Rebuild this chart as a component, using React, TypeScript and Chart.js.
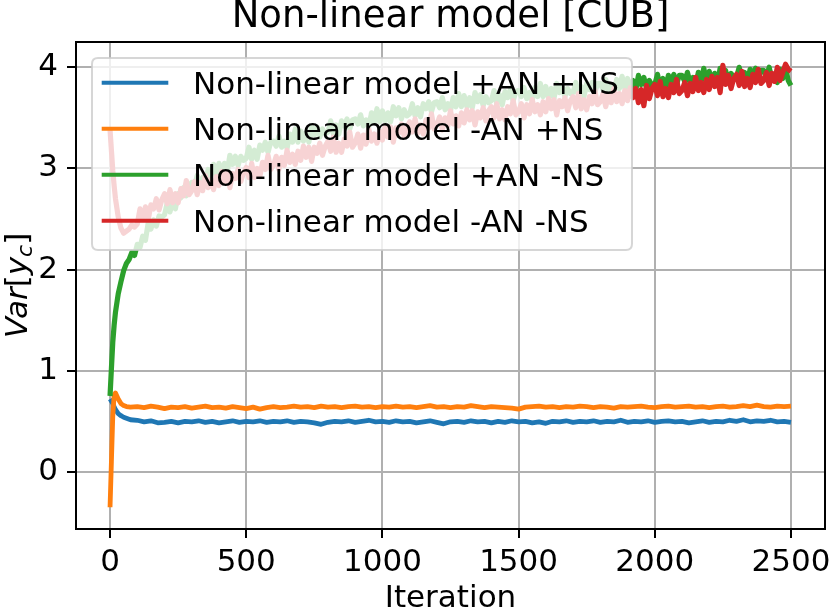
import React, { useEffect, useRef } from "react";
import { Chart, registerables } from "chart.js";

Chart.register(...registerables);

const TITLE = "Non-linear model [CUB]";
const X_LABEL = "Iteration";
const X_TICKS = [0, 500, 1000, 1500, 2000, 2500];
const Y_TICKS = [0, 1, 2, 3, 4];

// iterations sampled for the two low, flat series
const ITERATIONS = [
  0, 5, 10, 15, 20, 30, 40, 50, 60, 75,
  100, 125, 150, 175, 200, 225, 250, 275, 300, 325,
  350, 375, 400, 425, 450, 475, 500, 525, 550, 575,
  600, 625, 650, 675, 700, 725, 750, 775, 800, 825,
  850, 875, 900, 925, 950, 975, 1000, 1025, 1050, 1075,
  1100, 1125, 1150, 1175, 1200, 1225, 1250, 1275, 1300, 1325,
  1350, 1375, 1400, 1425, 1450, 1475, 1500, 1525, 1550, 1575,
  1600, 1625, 1650, 1675, 1700, 1725, 1750, 1775, 1800, 1825,
  1850, 1875, 1900, 1925, 1950, 1975, 2000, 2025, 2050, 2075,
  2100, 2125, 2150, 2175, 2200, 2225, 2250, 2275, 2300, 2325,
  2350, 2375, 2400, 2425, 2450, 2475, 2500,
];

// iterations sampled for the two noisy, rising series
const ITERATIONS_FINE = [
  0, 5, 10, 15, 20, 30, 40, 50, 60, 70, 80, 90,
  100, 110, 120, 130, 140, 150, 160, 170, 180, 190,
  200, 210, 220, 230, 240, 250, 260, 270, 280, 290,
  300, 310, 320, 330, 340, 350, 360, 370, 380, 390,
  400, 410, 420, 430, 440, 450, 460, 470, 480, 490,
  500, 510, 520, 530, 540, 550, 560, 570, 580, 590,
  600, 610, 620, 630, 640, 650, 660, 670, 680, 690,
  700, 710, 720, 730, 740, 750, 760, 770, 780, 790,
  800, 810, 820, 830, 840, 850, 860, 870, 880, 890,
  900, 910, 920, 930, 940, 950, 960, 970, 980, 990,
  1000, 1010, 1020, 1030, 1040, 1050, 1060, 1070, 1080, 1090,
  1100, 1110, 1120, 1130, 1140, 1150, 1160, 1170, 1180, 1190,
  1200, 1210, 1220, 1230, 1240, 1250, 1260, 1270, 1280, 1290,
  1300, 1310, 1320, 1330, 1340, 1350, 1360, 1370, 1380, 1390,
  1400, 1410, 1420, 1430, 1440, 1450, 1460, 1470, 1480, 1490,
  1500, 1510, 1520, 1530, 1540, 1550, 1560, 1570, 1580, 1590,
  1600, 1610, 1620, 1630, 1640, 1650, 1660, 1670, 1680, 1690,
  1700, 1710, 1720, 1730, 1740, 1750, 1760, 1770, 1780, 1790,
  1800, 1810, 1820, 1830, 1840, 1850, 1860, 1870, 1880, 1890,
  1900, 1910, 1920, 1930, 1940, 1950, 1960, 1970, 1980, 1990,
  2000, 2010, 2020, 2030, 2040, 2050, 2060, 2070, 2080, 2090,
  2100, 2110, 2120, 2130, 2140, 2150, 2160, 2170, 2180, 2190,
  2200, 2210, 2220, 2230, 2240, 2250, 2260, 2270, 2280, 2290,
  2300, 2310, 2320, 2330, 2340, 2350, 2360, 2370, 2380, 2390,
  2400, 2410, 2420, 2430, 2440, 2450, 2460, 2470, 2480, 2490,
  2500,
];

const SERIES_NAMES = [
  "Non-linear model +AN +NS",
  "Non-linear model -AN +NS",
  "Non-linear model +AN -NS",
  "Non-linear model -AN -NS",
];

const SERIES_COLORS = ["#1f77b4", "#ff7f0e", "#2ca02c", "#d62728"];

const PLUS_AN_PLUS_NS = [
  0.72, 0.70, 0.68, 0.645, 0.615, 0.575, 0.555, 0.54, 0.53, 0.515,
  0.51, 0.495, 0.505, 0.485, 0.49, 0.50, 0.485, 0.50, 0.495, 0.505,
  0.49, 0.50, 0.485, 0.495, 0.505, 0.49, 0.50, 0.495, 0.505, 0.49,
  0.50, 0.495, 0.505, 0.49, 0.50, 0.495, 0.485, 0.47, 0.49, 0.50,
  0.495, 0.505, 0.49, 0.50, 0.51, 0.495, 0.50, 0.49, 0.505, 0.495,
  0.50, 0.485, 0.495, 0.505, 0.49, 0.475, 0.495, 0.50, 0.49, 0.505,
  0.495, 0.50, 0.485, 0.50, 0.49, 0.505, 0.495, 0.50, 0.485, 0.495,
  0.48, 0.50, 0.495, 0.505, 0.49, 0.50, 0.495, 0.505, 0.49, 0.50,
  0.495, 0.51, 0.49, 0.50, 0.495, 0.505, 0.49, 0.50, 0.505, 0.495,
  0.50, 0.485, 0.495, 0.505, 0.49, 0.50, 0.495, 0.51, 0.50, 0.515,
  0.495, 0.505, 0.50, 0.51, 0.495, 0.50, 0.49,
];

const MINUS_AN_PLUS_NS = [
  -0.35, 0.10, 0.55, 0.76, 0.78, 0.72, 0.675, 0.655, 0.645, 0.64,
  0.645, 0.635, 0.65, 0.64, 0.625, 0.64, 0.635, 0.645, 0.63, 0.64,
  0.65, 0.635, 0.64, 0.63, 0.645, 0.635, 0.625, 0.64, 0.62, 0.635,
  0.645, 0.635, 0.64, 0.65, 0.64, 0.645, 0.635, 0.65, 0.64, 0.645,
  0.635, 0.645, 0.65, 0.64, 0.645, 0.635, 0.645, 0.64, 0.65, 0.64,
  0.645, 0.635, 0.645, 0.655, 0.64, 0.645, 0.635, 0.645, 0.64, 0.655,
  0.645, 0.635, 0.645, 0.64, 0.635, 0.63, 0.62, 0.64, 0.645, 0.65,
  0.64, 0.645, 0.635, 0.645, 0.64, 0.65, 0.645, 0.635, 0.645, 0.64,
  0.63, 0.645, 0.64, 0.645, 0.65, 0.64, 0.635, 0.645, 0.65, 0.64,
  0.645, 0.65, 0.64, 0.645, 0.635, 0.645, 0.65, 0.64, 0.645, 0.655,
  0.645, 0.66, 0.645, 0.64, 0.65, 0.645, 0.65,
];

const PLUS_AN_MINUS_NS = [
  0.75, 1.02, 1.28, 1.45, 1.58, 1.76, 1.88, 1.99, 2.06, 2.10, 2.17, 2.14,
  2.25, 2.22, 2.33, 2.29, 2.46, 2.40, 2.49, 2.43, 2.53, 2.52,
  2.54, 2.66, 2.57, 2.67, 2.60, 2.75, 2.71, 2.81, 2.73, 2.83,
  2.86, 2.82, 2.93, 2.83, 2.91, 2.84, 2.99, 2.92, 3.04, 2.94,
  3.05, 2.95, 3.05, 2.96, 3.13, 3.04, 3.12, 3.03, 3.12, 3.08,
  3.10, 3.21, 3.09, 3.18, 3.09, 3.23, 3.18, 3.26, 3.16, 3.26,
  3.27, 3.22, 3.32, 3.21, 3.27, 3.20, 3.34, 3.26, 3.39, 3.26,
  3.37, 3.27, 3.36, 3.26, 3.42, 3.33, 3.41, 3.31, 3.39, 3.34,
  3.36, 3.47, 3.34, 3.43, 3.34, 3.47, 3.42, 3.49, 3.39, 3.48,
  3.49, 3.44, 3.53, 3.42, 3.48, 3.41, 3.55, 3.46, 3.59, 3.46,
  3.57, 3.47, 3.55, 3.46, 3.61, 3.52, 3.60, 3.49, 3.58, 3.52,
  3.54, 3.64, 3.52, 3.60, 3.51, 3.64, 3.59, 3.66, 3.56, 3.65,
  3.66, 3.60, 3.70, 3.58, 3.64, 3.57, 3.70, 3.61, 3.74, 3.61,
  3.72, 3.61, 3.70, 3.60, 3.75, 3.66, 3.73, 3.62, 3.71, 3.65,
  3.67, 3.77, 3.64, 3.73, 3.63, 3.76, 3.70, 3.78, 3.67, 3.76,
  3.77, 3.71, 3.80, 3.69, 3.75, 3.67, 3.80, 3.71, 3.84, 3.71,
  3.81, 3.70, 3.79, 3.69, 3.84, 3.75, 3.82, 3.71, 3.79, 3.74,
  3.75, 3.85, 3.72, 3.81, 3.71, 3.84, 3.78, 3.85, 3.75, 3.84,
  3.84, 3.78, 3.88, 3.76, 3.82, 3.75, 3.88, 3.79, 3.91, 3.79,
  3.89, 3.78, 3.87, 3.77, 3.92, 3.83, 3.90, 3.79, 3.87, 3.82,
  3.83, 3.93, 3.80, 3.89, 3.79, 3.92, 3.86, 3.93, 3.83, 3.92,
  3.92, 3.86, 3.95, 3.84, 3.90, 3.82, 3.95, 3.86, 3.99, 3.86,
  3.96, 3.85, 3.94, 3.84, 3.99, 3.90, 3.97, 3.86, 3.94, 3.89,
  3.90, 4.00, 3.87, 3.95, 3.85, 3.98, 3.92, 3.99, 3.88, 3.97,
  3.97, 3.91, 4.00, 3.88, 3.93, 3.85, 3.98, 3.89, 4.00, 3.87,
  3.82,
];

const MINUS_AN_MINUS_NS = [
  3.38, 3.18, 2.98, 2.83, 2.70, 2.52, 2.41, 2.36, 2.38, 2.40, 2.44, 2.42,
  2.45, 2.60, 2.51, 2.62, 2.49, 2.64, 2.60, 2.70, 2.59, 2.69,
  2.75, 2.65, 2.79, 2.66, 2.75, 2.66, 2.80, 2.73, 2.88, 2.74,
  2.78, 2.87, 2.74, 2.86, 2.78, 2.93, 2.81, 2.89, 2.79, 2.92,
  2.83, 2.97, 2.86, 2.96, 2.81, 2.95, 2.90, 2.99, 2.87, 2.96,
  3.01, 2.91, 3.05, 2.91, 3.00, 2.92, 3.06, 2.99, 3.13, 2.99,
  3.03, 3.12, 2.99, 3.11, 3.03, 3.18, 3.06, 3.14, 3.04, 3.17,
  3.08, 3.22, 3.11, 3.21, 3.07, 3.21, 3.15, 3.25, 3.13, 3.22,
  3.27, 3.17, 3.31, 3.16, 3.25, 3.16, 3.29, 3.22, 3.36, 3.21,
  3.25, 3.34, 3.20, 3.33, 3.24, 3.39, 3.27, 3.34, 3.25, 3.37,
  3.28, 3.42, 3.31, 3.41, 3.26, 3.40, 3.35, 3.44, 3.32, 3.41,
  3.46, 3.36, 3.49, 3.35, 3.43, 3.34, 3.48, 3.40, 3.54, 3.39,
  3.43, 3.51, 3.38, 3.50, 3.42, 3.57, 3.44, 3.52, 3.42, 3.55,
  3.45, 3.58, 3.48, 3.57, 3.43, 3.56, 3.50, 3.60, 3.47, 3.57,
  3.61, 3.50, 3.64, 3.49, 3.58, 3.48, 3.61, 3.54, 3.67, 3.53,
  3.56, 3.64, 3.50, 3.63, 3.54, 3.68, 3.56, 3.63, 3.53, 3.66,
  3.56, 3.69, 3.59, 3.68, 3.53, 3.67, 3.61, 3.70, 3.57, 3.67,
  3.71, 3.60, 3.74, 3.59, 3.68, 3.58, 3.71, 3.64, 3.77, 3.63,
  3.66, 3.74, 3.61, 3.73, 3.65, 3.79, 3.66, 3.74, 3.64, 3.77,
  3.67, 3.80, 3.70, 3.79, 3.65, 3.78, 3.62, 3.82, 3.69, 3.79,
  3.83, 3.72, 3.86, 3.71, 3.79, 3.70, 3.83, 3.75, 3.88, 3.74,
  3.77, 3.85, 3.72, 3.84, 3.76, 3.90, 3.77, 3.85, 3.75, 3.88,
  3.78, 3.91, 3.81, 3.90, 3.75, 4.02, 3.83, 3.92, 3.79, 3.89,
  3.93, 3.82, 3.96, 3.81, 3.89, 3.80, 3.93, 3.85, 3.98, 3.84,
  3.87, 3.95, 3.82, 3.94, 3.86, 4.00, 3.87, 3.95, 4.03, 3.98,
  3.96,
];

const SERIES_VALUES = [PLUS_AN_PLUS_NS, MINUS_AN_PLUS_NS, PLUS_AN_MINUS_NS, MINUS_AN_MINUS_NS];
const SERIES_ITERS = [ITERATIONS, ITERATIONS, ITERATIONS_FINE, ITERATIONS_FINE];

const FONT = '"DejaVu Sans", "Liberation Sans", sans-serif';
const LINE_W = 3.9;
const SERIES_WIDTHS = [4.8, 4.8, 5.2, 5.2];

const decorPlugin = {
  id: "decor",
  afterDatasetsDraw(chart: any) {
    const { ctx, chartArea: a } = chart;
    ctx.save();
    ctx.strokeStyle = "#000";
    ctx.lineWidth = 2;
    ctx.strokeRect(a.left, a.top, a.right - a.left, a.bottom - a.top);

    ctx.font = `31px ${FONT}`;
    let maxW = 0;
    SERIES_NAMES.forEach((n) => {
      maxW = Math.max(maxW, ctx.measureText(n).width);
    });
    const bx = a.left + 16;
    const by = a.top + 16;
    const textX = bx + 101;
    const bw = textX + maxW + 13 - bx;
    const bh = 192;
    const r = 6;
    ctx.beginPath();
    ctx.moveTo(bx + r, by);
    ctx.lineTo(bx + bw - r, by);
    ctx.quadraticCurveTo(bx + bw, by, bx + bw, by + r);
    ctx.lineTo(bx + bw, by + bh - r);
    ctx.quadraticCurveTo(bx + bw, by + bh, bx + bw - r, by + bh);
    ctx.lineTo(bx + r, by + bh);
    ctx.quadraticCurveTo(bx, by + bh, bx, by + bh - r);
    ctx.lineTo(bx, by + r);
    ctx.quadraticCurveTo(bx, by, bx + r, by);
    ctx.closePath();
    ctx.fillStyle = "rgba(255,255,255,0.8)";
    ctx.fill();
    ctx.strokeStyle = "rgba(204,204,204,0.8)";
    ctx.lineWidth = 2;
    ctx.stroke();

    SERIES_NAMES.forEach((n, i) => {
      const ry = by + 24.7 + i * 46;
      ctx.beginPath();
      ctx.moveTo(bx + 9.7, ry);
      ctx.lineTo(bx + 76.3, ry);
      ctx.strokeStyle = SERIES_COLORS[i];
      ctx.lineWidth = LINE_W;
      ctx.lineCap = "butt";
      ctx.stroke();
      ctx.fillStyle = "#000";
      ctx.textAlign = "left";
      ctx.textBaseline = "alphabetic";
      ctx.fillText(n, textX, ry + 11.3);
    });
    ctx.restore();
  },
  afterDraw(chart: any) {
    const { ctx, chartArea: a } = chart;
    ctx.save();
    ctx.fillStyle = "#000";
    ctx.font = `37px ${FONT}`;
    ctx.textAlign = "center";
    ctx.textBaseline = "alphabetic";
    ctx.fillText(TITLE, (a.left + a.right) / 2, a.top - 15);
    ctx.font = `31px ${FONT}`;
    ctx.fillText(X_LABEL, (a.left + a.right) / 2, 607);
    const parts = [
      { t: "Var", f: `italic 31px ${FONT}`, dy: 0 },
      { t: "[", f: `31px ${FONT}`, dy: 0 },
      { t: "y", f: `italic 31px ${FONT}`, dy: 0 },
      { t: "c", f: `italic 22px ${FONT}`, dy: 5 },
      { t: "]", f: `31px ${FONT}`, dy: 0 },
    ];
    let total = 0;
    const widths = parts.map((p) => {
      ctx.font = p.f;
      const w = ctx.measureText(p.t).width;
      total += w;
      return w;
    });
    ctx.translate(27, (a.top + a.bottom) / 2);
    ctx.rotate(-Math.PI / 2);
    ctx.textAlign = "left";
    let x = -total / 2;
    parts.forEach((p, i) => {
      ctx.font = p.f;
      ctx.fillText(p.t, x, p.dy);
      x += widths[i];
    });
    ctx.restore();
  },
};

export default function App() {
  const canvasRef = useRef<HTMLCanvasElement | null>(null);

  useEffect(() => {
    const canvas = canvasRef.current;
    if (!canvas) return;
    const orders = [4, 3, 2, 1];
    const datasets = SERIES_VALUES.map((vals, i) => ({
      label: SERIES_NAMES[i],
      data: SERIES_ITERS[i].map((it, j) => ({ x: it, y: vals[j] })),
      borderColor: SERIES_COLORS[i],
      backgroundColor: SERIES_COLORS[i],
      borderWidth: SERIES_WIDTHS[i],
      pointRadius: 0,
      tension: 0,
      fill: false,
      order: orders[i],
      borderJoinStyle: "round" as const,
    }));
    const tickFont = { family: FONT, size: 31 };
    const gridOpts = {
      color: "#b0b0b0",
      lineWidth: 2,
      drawTicks: true,
      tickLength: 9,
      tickColor: "#000",
      tickWidth: 2,
    };
    const chart = new Chart(canvas, {
      type: "line",
      data: { datasets },
      options: {
        responsive: false,
        animation: false,
        devicePixelRatio: 1,
        events: [],
        layout: { padding: { top: 42, right: 6, left: 0, bottom: 0 } },
        plugins: {
          legend: { display: false },
          title: { display: false },
          tooltip: { enabled: false },
        },
        scales: {
          x: {
            type: "linear",
            min: -125,
            max: 2625,
            afterBuildTicks: (s: any) => {
              s.ticks = X_TICKS.map((v) => ({ value: v }));
            },
            afterFit: (s: any) => {
              s.height = 85;
              s.paddingLeft = 0;
              s.paddingRight = 0;
            },
            grid: gridOpts,
            border: { display: false },
            ticks: {
              font: tickFont,
              color: "#000",
              padding: 6,
              maxRotation: 0,
              autoSkip: false,
              callback: (v: any) => String(v),
            },
          },
          y: {
            type: "linear",
            min: -0.565,
            max: 4.25,
            afterBuildTicks: (s: any) => {
              s.ticks = Y_TICKS.map((v) => ({ value: v }));
            },
            afterFit: (s: any) => {
              s.width = 76;
              s.paddingTop = 0;
              s.paddingBottom = 0;
            },
            grid: gridOpts,
            border: { display: false },
            ticks: {
              font: tickFont,
              color: "#000",
              padding: 9,
              autoSkip: false,
              callback: (v: any) => String(v),
            },
          },
        },
      },
      plugins: [decorPlugin],
    });
    return () => chart.destroy();
  }, []);

  return (
    <div style={{ position: "fixed", left: 0, top: 0, width: 831, height: 614, background: "#fff" }}>
      <canvas ref={canvasRef} width={831} height={614} style={{ display: "block" }} />
    </div>
  );
}
